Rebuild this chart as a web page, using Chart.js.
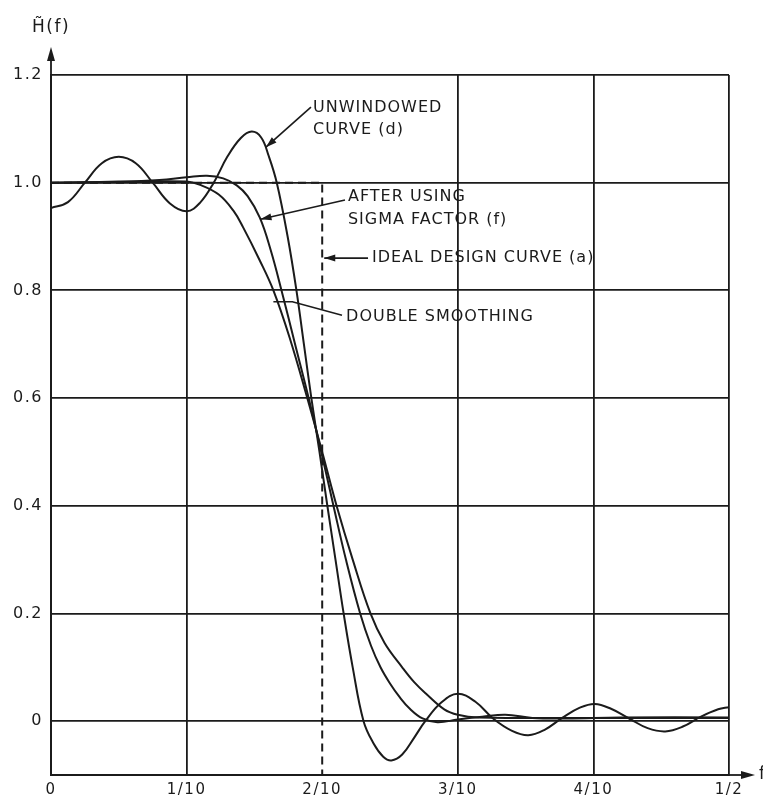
<!DOCTYPE html>
<html>
<head>
<meta charset="utf-8">
<script src="https://cdn.jsdelivr.net/npm/chart.js@4.4.1/dist/chart.umd.min.js"></script>
<style>
html,body{margin:0;padding:0;background:#fff;}
canvas{display:block;}
</style>
</head>
<body>
<canvas id="chart" width="763" height="798"></canvas>
<script>
// axis ticks
const xTicks = [0, 0.1, 0.2, 0.3, 0.4, 0.5];
const xTickLabels = ['0', '1/10', '2/10', '3/10', '4/10', '1/2'];
const yTicks = [0, 0.2, 0.4, 0.6, 0.8, 1.0, 1.2];
const yTickLabels = ['0', '0.2', '0.4', '0.6', '0.8', '1.0', '1.2'];

// unwindowed curve (d)
const unwindowedF = [0, 0.0125, 0.025, 0.0375, 0.05, 0.0625, 0.075, 0.0875, 0.1, 0.11, 0.12, 0.13, 0.14, 0.148,
  0.155, 0.1605, 0.1665, 0.1745, 0.181, 0.1865, 0.192, 0.198, 0.2038, 0.2098, 0.2158, 0.2225, 0.2305, 0.238, 0.245,
  0.251, 0.259, 0.268, 0.276, 0.288, 0.3, 0.313, 0.326, 0.34, 0.352, 0.364, 0.377, 0.39, 0.401, 0.413, 0.427,
  0.44, 0.453, 0.466, 0.479, 0.492, 0.5];
const unwindowedH = [0.953, 0.964, 1.0, 1.036, 1.048, 1.036, 1.0, 0.962, 0.947, 0.963, 1.0, 1.048, 1.083, 1.095,
  1.084, 1.05, 1.0, 0.9, 0.8, 0.7, 0.6, 0.5, 0.4, 0.3, 0.2, 0.1, 0.0, -0.042, -0.066,
  -0.073, -0.062, -0.03, 0.0, 0.035, 0.051, 0.036, 0.005, -0.018, -0.026, -0.016, 0.006, 0.025, 0.032, 0.023, 0.004,
  -0.013, -0.019, -0.01, 0.008, 0.022, 0.026];

// after using sigma factor (f)
const sigmaF = [0, 0.05, 0.08, 0.1, 0.115, 0.127, 0.137, 0.145, 0.154, 0.162, 0.17, 0.18, 0.19, 0.1993, 0.2083,
  0.2175, 0.228, 0.236, 0.243, 0.25, 0.257, 0.265, 0.274, 0.285, 0.3, 0.318, 0.335, 0.355, 0.38, 0.42, 0.5];
const sigmaH = [1.0, 1.002, 1.005, 1.01, 1.013, 1.008, 0.995, 0.975, 0.935, 0.875, 0.8, 0.7, 0.6, 0.5, 0.4,
  0.3, 0.2, 0.14, 0.1, 0.07, 0.045, 0.022, 0.005, -0.002, 0.003, 0.008, 0.012, 0.006, 0.005, 0.007, 0.007];

// double smoothing
const doubleF = [0, 0.05, 0.1, 0.11, 0.1237, 0.1345, 0.1417, 0.1537, 0.164, 0.176, 0.189, 0.2, 0.2106, 0.2225,
  0.2356, 0.246, 0.259, 0.268, 0.277, 0.29, 0.3, 0.315, 0.4, 0.5];
const doubleH = [1.0, 1.001, 1.002, 0.996, 0.978, 0.948, 0.917, 0.857, 0.8, 0.712, 0.6, 0.5, 0.4, 0.3,
  0.2, 0.145, 0.1, 0.072, 0.05, 0.022, 0.012, 0.007, 0.006, 0.006];

// ideal design curve (a)
const idealF = [0, 0.2, 0.2];
const idealH = [1.0, 1.0, -0.1];

const INK = '#1b1b1b';

// callouts, placed in data units
const callouts = [
  { lines: ['UNWINDOWED', 'CURVE (d)'], at: [0.1932, 1.1385], gap: 0.0412, path: [[0.1917, 1.1404], [0.1585, 1.066]], arrow: true },
  { lines: ['AFTER USING', 'SIGMA FACTOR (f)'], at: [0.219, 0.9733], gap: 0.0423, path: [[0.2168, 0.968], [0.1545, 0.932]], arrow: true },
  { lines: ['IDEAL DESIGN CURVE (a)'], at: [0.2367, 0.86], gap: 0, path: [[0.2338, 0.86], [0.2015, 0.86]], arrow: true },
  { lines: ['DOUBLE SMOOTHING'], at: [0.2176, 0.7506], gap: 0, path: [[0.2146, 0.754], [0.178, 0.779], [0.164, 0.779]], arrow: false }
];

function pts(xs, ys){ return xs.map((x, i) => ({ x: x, y: ys[i] })); }

function arrowHead(ctx, x1, y1, x2, y2, len, half){
  const a = Math.atan2(y2 - y1, x2 - x1);
  ctx.beginPath();
  ctx.moveTo(x2, y2);
  ctx.lineTo(x2 - len*Math.cos(a) + half*Math.sin(a), y2 - len*Math.sin(a) - half*Math.cos(a));
  ctx.lineTo(x2 - len*Math.cos(a) - half*Math.sin(a), y2 - len*Math.sin(a) + half*Math.cos(a));
  ctx.closePath();
  ctx.fill();
}

const decor = {
  id: 'decor',
  beforeDraw(chart){
    const c = chart.ctx;
    c.save(); c.fillStyle = '#fff'; c.fillRect(0, 0, chart.width, chart.height); c.restore();
    c.letterSpacing = '1.5px';
  },
  afterDraw(chart){
    const c = chart.ctx, a = chart.chartArea;
    const xs = chart.scales.x, ys = chart.scales.y;
    c.save();
    c.strokeStyle = INK; c.fillStyle = INK; c.lineWidth = 1.8;

    // axis arrows
    c.beginPath(); c.moveTo(a.left, a.top); c.lineTo(a.left, a.top - 18); c.stroke();
    arrowHead(c, a.left, a.top, a.left, a.top - 28, 14, 4);
    c.beginPath(); c.moveTo(a.right, a.bottom); c.lineTo(a.right + 16, a.bottom); c.stroke();
    arrowHead(c, a.left, a.bottom, a.right + 26, a.bottom, 14, 4);

    // axis names
    c.letterSpacing = '1.5px';
    c.font = '17px "DejaVu Sans"';
    c.textBaseline = 'middle'; c.textAlign = 'left';
    c.fillText('H\u0303(f)', a.left - 19, a.top - 47);
    c.fillText('f', a.right + 30, a.bottom);

    // callouts
    c.letterSpacing = '1px';
    c.font = '16px "DejaVu Sans"';
    c.lineWidth = 1.6;
    callouts.forEach(co => {
      const tx = xs.getPixelForValue(co.at[0]);
      co.lines.forEach((s, i) => c.fillText(s, tx, ys.getPixelForValue(co.at[1] - i*co.gap)));
      const p = co.path.map(q => [xs.getPixelForValue(q[0]), ys.getPixelForValue(q[1])]);
      c.beginPath(); c.moveTo(p[0][0], p[0][1]);
      for(let i = 1; i < p.length; i++) c.lineTo(p[i][0], p[i][1]);
      c.stroke();
      if(co.arrow){
        const n = p.length;
        arrowHead(c, p[n-2][0], p[n-2][1], p[n-1][0], p[n-1][1], 11, 3.5);
      }
    });
    c.restore();
    c.letterSpacing = '0px';
  }
};

const curveStyle = { borderColor: INK, borderWidth: 2, pointRadius: 0, showLine: true, tension: 0.4, fill: false };

new Chart(document.getElementById('chart'), {
  type: 'scatter',
  data: {
    datasets: [
      Object.assign({ label: 'Unwindowed curve (d)', data: pts(unwindowedF, unwindowedH) }, curveStyle),
      Object.assign({ label: 'After using sigma factor (f)', data: pts(sigmaF, sigmaH) }, curveStyle),
      Object.assign({ label: 'Double smoothing', data: pts(doubleF, doubleH) }, curveStyle),
      { label: 'Ideal design curve (a)', data: pts(idealF, idealH), borderColor: INK, borderWidth: 2,
        borderDash: [8, 5], pointRadius: 0, showLine: true, tension: 0, fill: false }
    ]
  },
  options: {
    responsive: false,
    animation: false,
    devicePixelRatio: 1,
    layout: { padding: { top: 75, right: 34, left: 0, bottom: 0 } },
    plugins: { legend: { display: false }, tooltip: { enabled: false } },
    scales: {
      x: {
        type: 'linear', min: 0, max: 0.5,
        afterBuildTicks: s => { s.ticks = xTicks.map(v => ({ value: v })); },
        afterFit: s => { s.height = 23; },
        ticks: { autoSkip: false, maxRotation: 0, padding: 6, color: INK,
          font: { family: '"DejaVu Sans"', size: 15 },
          callback: (v, i) => xTickLabels[i] },
        grid: { drawTicks: false, lineWidth: 1.8,
          color: ctx => (ctx.tick && Math.abs(ctx.tick.value - 0.2) < 1e-9) ? 'rgba(0,0,0,0)' : INK },
        border: { display: true, color: INK, width: 2 }
      },
      y: {
        type: 'linear', min: -0.1, max: 1.2,
        afterBuildTicks: s => { s.ticks = yTicks.map(v => ({ value: v })); },
        afterFit: s => { s.width = 51; },
        ticks: { autoSkip: false, padding: 8, color: INK,
          font: { family: '"DejaVu Sans"', size: 16 },
          callback: (v, i) => yTickLabels[i] },
        grid: { drawTicks: false, lineWidth: 1.8, color: INK },
        border: { display: true, color: INK, width: 2 }
      }
    }
  },
  plugins: [decor]
});
</script>
</body>
</html>
